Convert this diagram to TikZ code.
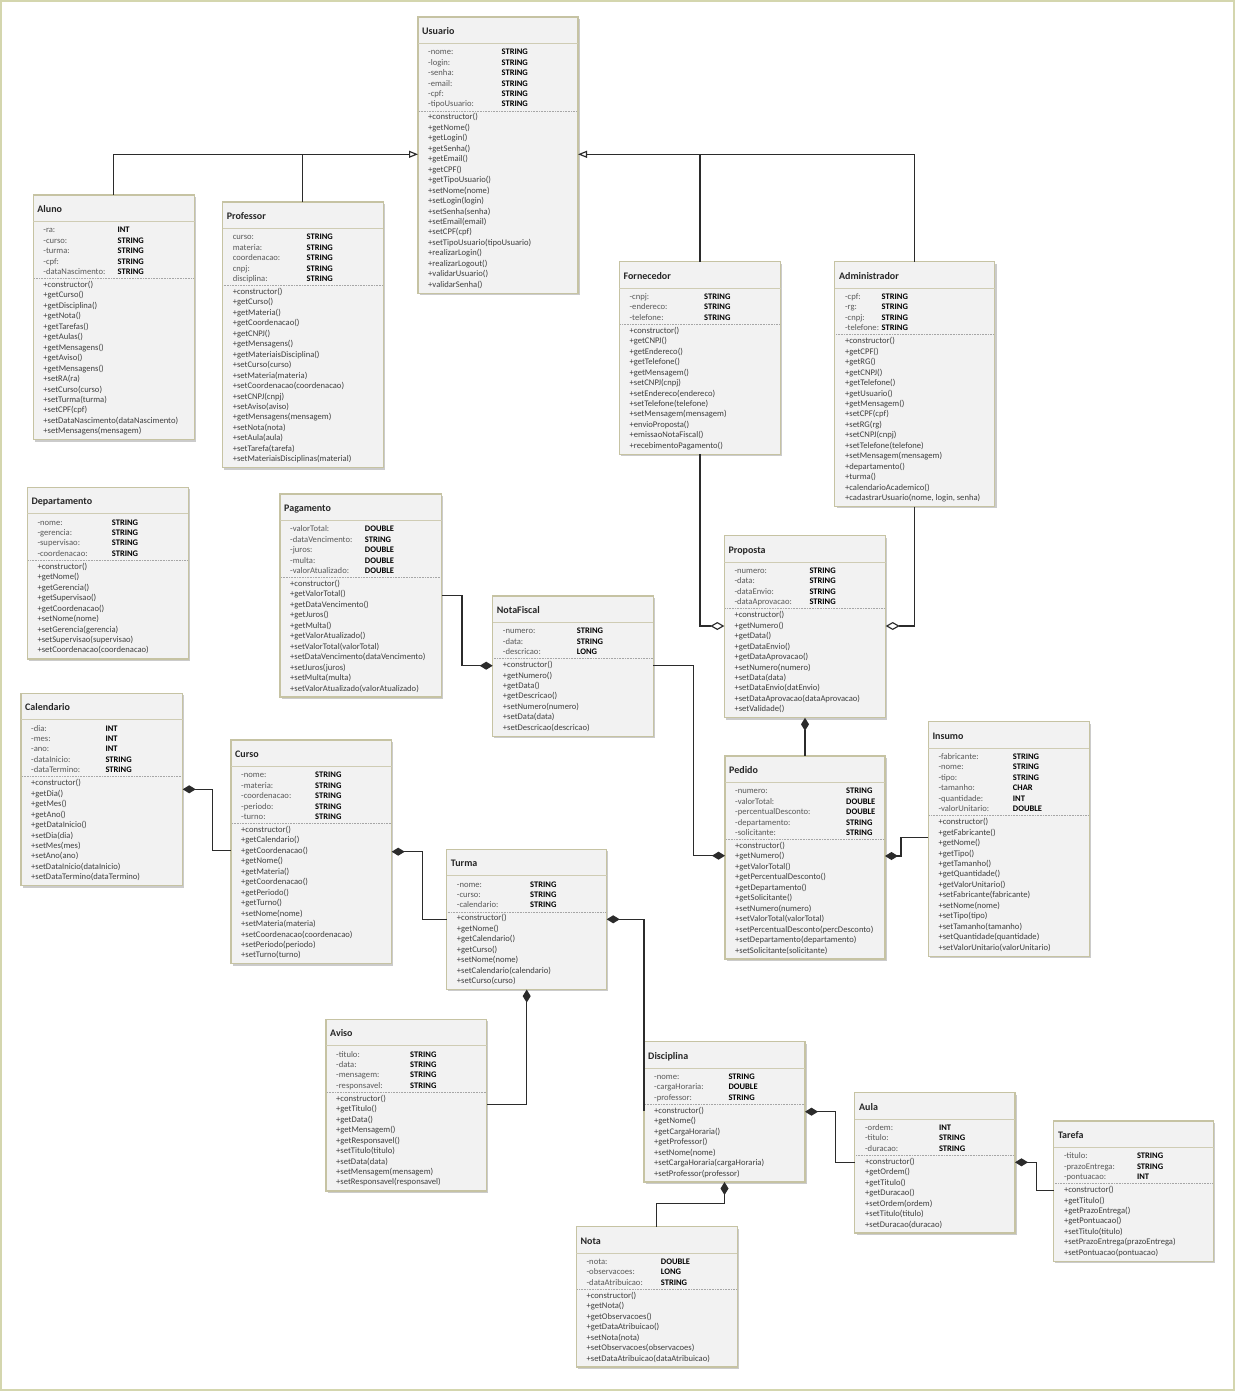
\documentclass[tikz,border=0pt]{standalone}
\usepackage{fontspec}
\setmainfont{Carlito}
\usetikzlibrary{arrows.meta,shadows,calc}
\definecolor{boxfill}{HTML}{F2F2F2}
\definecolor{boxline}{HTML}{C6C3A3}
\definecolor{titlerulec}{HTML}{CFCCB4}
\definecolor{pagec}{HTML}{D4D6AE}
\definecolor{attrc}{HTML}{595959}
\definecolor{methc}{HTML}{3F3F3F}
\definecolor{connc}{HTML}{2B2B2B}
\tikzset{
 classbox/.style={draw=boxline, line width=1.1pt, fill=boxfill, inner sep=0pt, outer sep=0pt,
   drop shadow={shadow xshift=1.6pt, shadow yshift=-1.8pt, fill=black!45, opacity=0.45}},
 ctitle/.style={font=\fontsize{10}{12}\selectfont\bfseries, text=black!85, inner sep=0pt},
 cattr/.style={font=\fontsize{8.6}{10}\selectfont, text=attrc, inner sep=0pt},
 ctype/.style={font=\fontsize{8.5}{10}\selectfont\bfseries, text=black, inner sep=0pt},
 cmeth/.style={font=\fontsize{8.6}{10}\selectfont, text=methc, inner sep=0pt},
 titlerule/.style={draw=titlerulec, line width=1pt},
 dotrule/.style={draw=black!35, line width=0.6pt, dash pattern=on 0.8pt off 0.8pt},
 conn/.style={draw=connc, line width=1.15pt},
 gen/.style={-{Triangle[open, fill=white, length=9pt, width=7pt]}},
 compS/.style={{Diamond[length=13pt, width=8pt]}-},
 compE/.style={-{Diamond[length=13pt, width=8pt]}},
 aggE/.style={-{Diamond[open, fill=white, length=14pt, width=8pt]}},
}
\newcount\nA
\newcount\nM
% #1 name, #2 left x, #3 top y, #4 width, #5 type column offset, #6 title, #7 attributes, #8 methods
\newcommand\umlclass[8]{%
 \global\nA=0 \global\nM=0
 \foreach \q in {#7}{\global\advance\nA by 1 }%
 \foreach \q in {#8}{\global\advance\nM by 1 }%
 \pgfmathsetmacro\boxh{35.8+(\the\nA+\the\nM)*10.45}%
 \pgfmathsetmacro\ydot{#3+35+(\the\nA-1)*10.45+6.6}%
 \pgfmathsetmacro\ymeth{#3+35+(\the\nA-1)*10.45+15.7}%
 \node[classbox, minimum width=#4pt, minimum height=\boxh pt, anchor=north west] (#1) at (#2,#3) {};
 \node[ctitle, anchor=base west] (#1-title) at (#2+4,#3+17.4) {#6};
 \draw[titlerule] ([yshift=-26.6pt]#1.north west) -- ([yshift=-26.6pt]#1.north east);
 \foreach \aN/\aT [count=\i from 0] in {#7}{%
   \node[cattr, anchor=base west] (#1-a\i) at (#2+10,#3+37.7+\i*10.45) {\aN};
   \node[ctype, anchor=base west] (#1-t\i) at (#2+#5,#3+37.7+\i*10.45) {\aT};
 }
 \draw[dotrule] (#2+1,\ydot) -- (#2+#4-1,\ydot);
 \foreach \mT [count=\i from 0] in {#8}{%
   \node[cmeth, anchor=base west] (#1-m\i) at (#2+10,\ymeth+\i*10.45) {\mT};
 }
}
\begin{document}
\begin{tikzpicture}[x=1pt,y=-1pt]
\useasboundingbox (0,0) rectangle (1235,1391);
\fill[white] (0,0) rectangle (1235,1391);
\draw[pagec, line width=2pt] (1,1) rectangle (1234,1390);

\umlclass{Usuario}{418}{17}{160}{83.4}{Usuario}
 {-nome:/STRING, -login:/STRING, -senha:/STRING, -email:/STRING, -cpf:/STRING, -tipoUsuario:/STRING}
 {+constructor(), +getNome(), +getLogin(), +getSenha(), +getEmail(), +getCPF(), +getTipoUsuario(),
  +setNome(nome), +setLogin(login), +setSenha(senha), +setEmail(email), +setCPF(cpf),
  +setTipoUsuario(tipoUsuario), +realizarLogin(), +realizarLogout(), +validarUsuario(), +validarSenha()}

\umlclass{Aluno}{33.2}{195}{161.3}{84.2}{Aluno}
 {-ra:/INT, -curso:/STRING, -turma:/STRING, -cpf:/STRING, -dataNascimento:/STRING}
 {+constructor(), +getCurso(), +getDisciplina(), +getNota(), +getTarefas(), +getAulas(), +getMensagens(),
  +getAviso(), +getMensagens(), +setRA(ra), +setCurso(curso), +setTurma(turma), +setCPF(cpf),
  +setDataNascimento(dataNascimento), +setMensagens(mensagem)}

\umlclass{Professor}{222.6}{202}{160.6}{83.8}{Professor}
 {curso:/STRING, materia:/STRING, coordenacao:/STRING, cnpj:/STRING, disciplina:/STRING}
 {+constructor(), +getCurso(), +getMateria(), +getCoordenacao(), +getCNPJ(), +getMensagens(),
  +getMateriaisDisciplina(), +setCurso(curso), +setMateria(materia), +setCoordenacao(coordenacao),
  +setCNPJ(cnpj), +setAviso(aviso), +getMensagens(mensagem), +setNota(nota), +setAula(aula),
  +setTarefa(tarefa), +setMateriaisDisciplinas(material)}

\umlclass{Fornecedor}{619.4}{261.7}{161.2}{84.6}{Fornecedor}
 {-cnpj:/STRING, -endereco:/STRING, -telefone:/STRING}
 {+constructor(), +getCNPJ(), +getEndereco(), +getTelefone(), +getMensagem(), +setCNPJ(cnpj),
  +setEndereco(endereco), +setTelefone(telefone), +setMensagem(mensagem), +envioProposta(),
  +emissaoNotaFiscal(), +recebimentoPagamento()}

\umlclass{Administrador}{834.9}{261.7}{160}{46.6}{Administrador}
 {-cpf:/STRING, -rg:/STRING, -cnpj:/STRING, -telefone:/STRING}
 {+constructor(), +getCPF(), +getRG(), +getCNPJ(), +getTelefone(), +getUsuario(), +getMensagem(),
  +setCPF(cpf), +setRG(rg), +setCNPJ(cnpj), +setTelefone(telefone), +setMensagem(mensagem),
  +departamento(), +turma(), +calendarioAcademico(), {+cadastrarUsuario(nome, login, senha)}}

\umlclass{Departamento}{27.3}{487.3}{161}{84.4}{Departamento}
 {-nome:/STRING, -gerencia:/STRING, -supervisao:/STRING, -coordenacao:/STRING}
 {+constructor(), +getNome(), +getGerencia(), +getSupervisao(), +getCoordenacao(), +setNome(nome),
  +setGerencia(gerencia), +setSupervisao(supervisao), +setCoordenacao(coordenacao)}

\umlclass{Pagamento}{280}{494}{161.7}{84.7}{Pagamento}
 {-valorTotal:/DOUBLE, -dataVencimento:/STRING, -juros:/DOUBLE, -multa:/DOUBLE, -valorAtualizado:/DOUBLE}
 {+constructor(), +getValorTotal(), +getDataVencimento(), +getJuros(), +getMulta(), +getValorAtualizado(),
  +setValorTotal(valorTotal), +setDataVencimento(dataVencimento), +setJuros(juros), +setMulta(multa),
  +setValorAtualizado(valorAtualizado)}

\umlclass{Calendario}{21}{693.3}{161.7}{84.3}{Calendario}
 {-dia:/INT, -mes:/INT, -ano:/INT, -dataInicio:/STRING, -dataTermino:/STRING}
 {+constructor(), +getDia(), +getMes(), +getAno(), +getDataInicio(), +setDia(dia), +setMes(mes),
  +setAno(ano), +setDataInicio(dataInicio), +setDataTermino(dataTermino)}

\umlclass{Curso}{231}{740}{160.7}{84}{Curso}
 {-nome:/STRING, -materia:/STRING, -coordenacao:/STRING, -periodo:/STRING, -turno:/STRING}
 {+constructor(), +getCalendario(), +getCoordenacao(), +getNome(), +getMateria(), +getCoordenacao(),
  +getPeriodo(), +getTurno(), +setNome(nome), +setMateria(materia), +setCoordenacao(coordenacao),
  +setPeriodo(periodo), +setTurno(turno)}

\umlclass{Turma}{446.7}{849.3}{160}{83.3}{Turma}
 {-nome:/STRING, -curso:/STRING, -calendario:/STRING}
 {+constructor(), +getNome(), +getCalendario(), +getCurso(), +setNome(nome),
  +setCalendario(calendario), +setCurso(curso)}

\umlclass{NotaFiscal}{492.7}{596}{160.6}{84}{NotaFiscal}
 {-numero:/STRING, -data:/STRING, -descricao:/LONG}
 {+constructor(), +getNumero(), +getData(), +getDescricao(), +setNumero(numero), +setData(data),
  +setDescricao(descricao)}

\umlclass{Proposta}{724.3}{535.7}{161.4}{85}{Proposta}
 {-numero:/STRING, -data:/STRING, -dataEnvio:/STRING, -dataAprovacao:/STRING}
 {+constructor(), +getNumero(), +getData(), +getDataEnvio(), +getDataAprovacao(), +setNumero(numero),
  +setData(data), +setDataEnvio(datEnvio), +setDataAprovacao(dataAprovacao), +setValidade()}

\umlclass{Pedido}{725}{756}{160}{121}{Pedido}
 {-numero:/STRING, -valorTotal:/DOUBLE, -percentualDesconto:/DOUBLE, -departamento:/STRING, -solicitante:/STRING}
 {+constructor(), +getNumero(), +getValorTotal(), +getPercentualDesconto(), +getDepartamento(),
  +getSolicitante(), +setNumero(numero), +setValorTotal(valorTotal),
  +setPercentualDesconto(percDesconto), +setDepartamento(departamento), +setSolicitante(solicitante)}

\umlclass{Insumo}{928.3}{721.7}{161}{84.4}{Insumo}
 {-fabricante:/STRING, -nome:/STRING, -tipo:/STRING, -tamanho:/CHAR, -quantidade:/INT, -valorUnitario:/DOUBLE}
 {+constructor(), +getFabricante(), +getNome(), +getTipo(), +getTamanho(), +getQuantidade(),
  +getValorUnitario(), +setFabricante(fabricante), +setNome(nome), +setTipo(tipo),
  +setTamanho(tamanho), +setQuantidade(quantidade), +setValorUnitario(valorUnitario)}

\umlclass{Aviso}{326}{1019.3}{160.7}{84}{Aviso}
 {-titulo:/STRING, -data:/STRING, -mensagem:/STRING, -responsavel:/STRING}
 {+constructor(), +getTitulo(), +getData(), +getMensagem(), +getResponsavel(), +setTitulo(titulo),
  +setData(data), +setMensagem(mensagem), +setResponsavel(responsavel)}

\umlclass{Disciplina}{644}{1041.7}{161}{84.3}{Disciplina}
 {-nome:/STRING, -cargaHoraria:/DOUBLE, -professor:/STRING}
 {+constructor(), +getNome(), +getCargaHoraria(), +getProfessor(), +setNome(nome),
  +setCargaHoraria(cargaHoraria), +setProfessor(professor)}

\umlclass{Aula}{854.9}{1092.7}{160.1}{83.9}{Aula}
 {-ordem:/INT, -titulo:/STRING, -duracao:/STRING}
 {+constructor(), +getOrdem(), +getTitulo(), +getDuracao(), +setOrdem(ordem), +setTitulo(titulo),
  +setDuracao(duracao)}

\umlclass{Tarefa}{1053.8}{1121}{159.7}{83}{Tarefa}
 {-titulo:/STRING, -prazoEntrega:/STRING, -pontuacao:/INT}
 {+constructor(), +getTitulo(), +getPrazoEntrega(), +getPontuacao(), +setTitulo(titulo),
  +setPrazoEntrega(prazoEntrega), +setPontuacao(pontuacao)}

\umlclass{Nota}{576.4}{1226.7}{161}{84.3}{Nota}
 {-nota:/DOUBLE, -observacoes:/LONG, -dataAtribuicao:/STRING}
 {+constructor(), +getNota(), +getObservacoes(), +getDataAtribuicao(), +setNota(nota),
  +setObservacoes(observacoes), +setDataAtribuicao(dataAtribuicao)}

% generalization
\coordinate (genL) at ([yshift=-137.3pt]Usuario.north west);
\coordinate (genR) at ([yshift=-137.3pt]Usuario.north east);
\draw[conn,gen] (Aluno.north) |- (genL);
\draw[conn] (Professor.north) -- (Professor.north |- genL);
\draw[conn,gen] (Administrador.north) |- (genR);
\draw[conn] (Fornecedor.north) -- (Fornecedor.north |- genR);

% aggregation
\draw[conn,aggE] (Fornecedor.south) |- ([yshift=-90.3pt]Proposta.north west);
\draw[conn,aggE] (Administrador.south) |- ([yshift=-90.3pt]Proposta.north east);

% composition
\draw[conn,compS] (Proposta.south) -- (Pedido.north);
\draw[conn,compE] ([yshift=-101.3pt]Pagamento.north east) -- ++(20.3,0) |- ([yshift=-69.7pt]NotaFiscal.north west);
\draw[conn,compE] ([yshift=-69.7pt]NotaFiscal.north east) -- ++(40.2,0) |- ([yshift=-99.7pt]Pedido.north west);
\draw[conn,compE] ([yshift=-116pt]Insumo.north west) -- ++(-27.3,0) |- ([yshift=-100pt]Pedido.north east);
\draw[conn,compS] ([yshift=-96pt]Calendario.north east) -- ++(30,0) |- ([yshift=-110.7pt]Curso.north west);
\draw[conn,compS] ([yshift=-111.7pt]Curso.north east) -- ++(31,0) |- ([yshift=-70pt]Turma.north west);
\draw[conn,compS] ([yshift=-70pt]Turma.north east) -| ([yshift=-69.3pt]Disciplina.north west);
\draw[conn,compS] (Turma.south) |- ([yshift=-85pt]Aviso.north east);
\draw[conn,compS] ([yshift=-70pt]Disciplina.north east) -- ++(30.5,0) |- ([yshift=-69.6pt]Aula.north west);
\draw[conn,compS] ([yshift=-69.6pt]Aula.north east) -- ++(21.5,0) |- ([yshift=-69.7pt]Tarefa.north west);
\draw[conn,compS] (Disciplina.south) -- ++(0,21.6) -| (Nota.north);
\end{tikzpicture}
\end{document}
